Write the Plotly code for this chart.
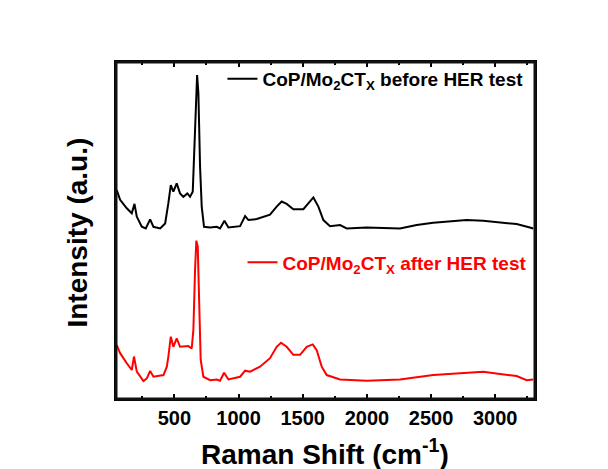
import plotly.graph_objects as go

# Raman shift (cm^-1) and intensity (a.u.)
before_x = [51, 77, 129, 168, 189, 207, 246, 277, 311, 337, 389, 428, 453, 472, 492, 518, 544, 570,
            601, 622, 643, 656, 669, 677, 687, 700, 713, 731, 778, 830, 856, 890, 921, 1012, 1051,
            1077, 1142, 1193, 1245, 1297, 1336, 1375, 1427, 1505, 1544, 1583, 1622, 1661, 1713,
            1791, 1843, 1998, 2258, 2388, 2517, 2647, 2777, 2907, 3037, 3167, 3270, 3296]
before_y = [620, 591, 566, 551, 579, 541, 511, 506, 533, 511, 506, 521, 581, 635, 615, 640, 610, 600,
            610, 600, 615, 739, 917, 961, 907, 689, 571, 511, 509, 511, 506, 529, 509, 513, 543,
            531, 534, 540, 547, 571, 586, 579, 563, 563, 579, 598, 571, 531, 513,
            516, 506, 509, 506, 516, 523, 526, 531, 529, 523, 519, 509, 506]

after_x = [51, 77, 129, 168, 185, 207, 259, 285, 311, 337, 415, 441, 453, 472, 492, 518, 544, 570,
           609, 635, 648, 661, 671, 682, 692, 705, 726, 778, 830, 856, 887, 921, 1012, 1051,
           1090, 1167, 1245, 1297, 1331, 1375, 1427, 1479, 1531, 1578, 1609, 1648, 1687, 1791,
           1998, 2258, 2517, 2647, 2777, 2907, 3037, 3167, 3245, 3296]
after_y = [160, 136, 106, 86, 126, 81, 53, 61, 83, 66, 71, 96, 126, 185, 155, 180, 155, 155,
           157, 150, 205, 383, 470, 452, 333, 116, 66, 56, 58, 54, 78, 58, 66, 84,
           81, 96, 121, 155, 167, 155, 131, 131, 155, 162, 145, 96, 71, 58,
           54, 58, 71, 74, 78, 81, 74, 68, 56, 58]

x_ticks = [500, 1000, 1500, 2000, 2500, 3000]

FONT = "Arial, Liberation Sans, sans-serif"

fig = go.Figure()
fig.add_trace(go.Scatter(x=before_x, y=before_y, mode="lines",
                         line=dict(color="black", width=2),
                         name="<b>CoP/Mo<sub>2</sub>CT<sub>X</sub> before HER test</b>",
                         legend="legend"))
fig.add_trace(go.Scatter(x=after_x, y=after_y, mode="lines",
                         line=dict(color="#ff0000", width=2),
                         name="<b>CoP/Mo<sub>2</sub>CT<sub>X</sub> after HER test</b>",
                         legend="legend2"))

fig.update_layout(
    width=608, height=469,
    margin=dict(l=116, r=73, t=62, b=70),
    paper_bgcolor="white", plot_bgcolor="white",
    font=dict(family=FONT, color="black"),
    legend=dict(x=0.254, y=0.9496, xanchor="left", yanchor="middle",
                bgcolor="rgba(0,0,0,0)", font=dict(size=19, color="black", family=FONT)),
    legend2=dict(x=0.302, y=0.405, xanchor="left", yanchor="middle",
                 bgcolor="rgba(0,0,0,0)", font=dict(size=19, color="#ff0000", family=FONT)),
    showlegend=True,
    shapes=[dict(type="rect", xref="paper", yref="paper", x0=0, y0=0, x1=1, y1=1,
                 line=dict(color="#111111", width=3), layer="above")],
)
fig.update_xaxes(
    range=[45, 3310], showgrid=False, zeroline=False,
    showline=True, linecolor="black", linewidth=2, mirror="all",
    ticks="inside", ticklen=5, tickwidth=1.5, tickcolor="black",
    tickvals=x_ticks, tickfont=dict(size=20, family=FONT, color="black", weight="bold"),
    minor=dict(ticks="inside", ticklen=3, tickwidth=1.5, tickcolor="black", dtick=250, tick0=0),
)
fig.update_yaxes(
    range=[0, 1000], showgrid=False, zeroline=False, showticklabels=False,
    showline=True, linecolor="black", linewidth=2, mirror="all", ticks="",
)
fig.add_annotation(text="<b>Raman Shift (cm<sup>-1</sup>)</b>", xref="paper", yref="paper",
                   x=0.499, y=-0.156, xanchor="center", yanchor="middle", showarrow=False,
                   font=dict(size=28, family=FONT, color="black"))
fig.add_annotation(text="<b>Intensity (a.u.)</b>", xref="paper", yref="paper",
                   x=-0.0907, y=0.494, xanchor="center", yanchor="middle", showarrow=False,
                   textangle=-90, font=dict(size=28, family=FONT, color="black"))

fig.write_html("out.html")
